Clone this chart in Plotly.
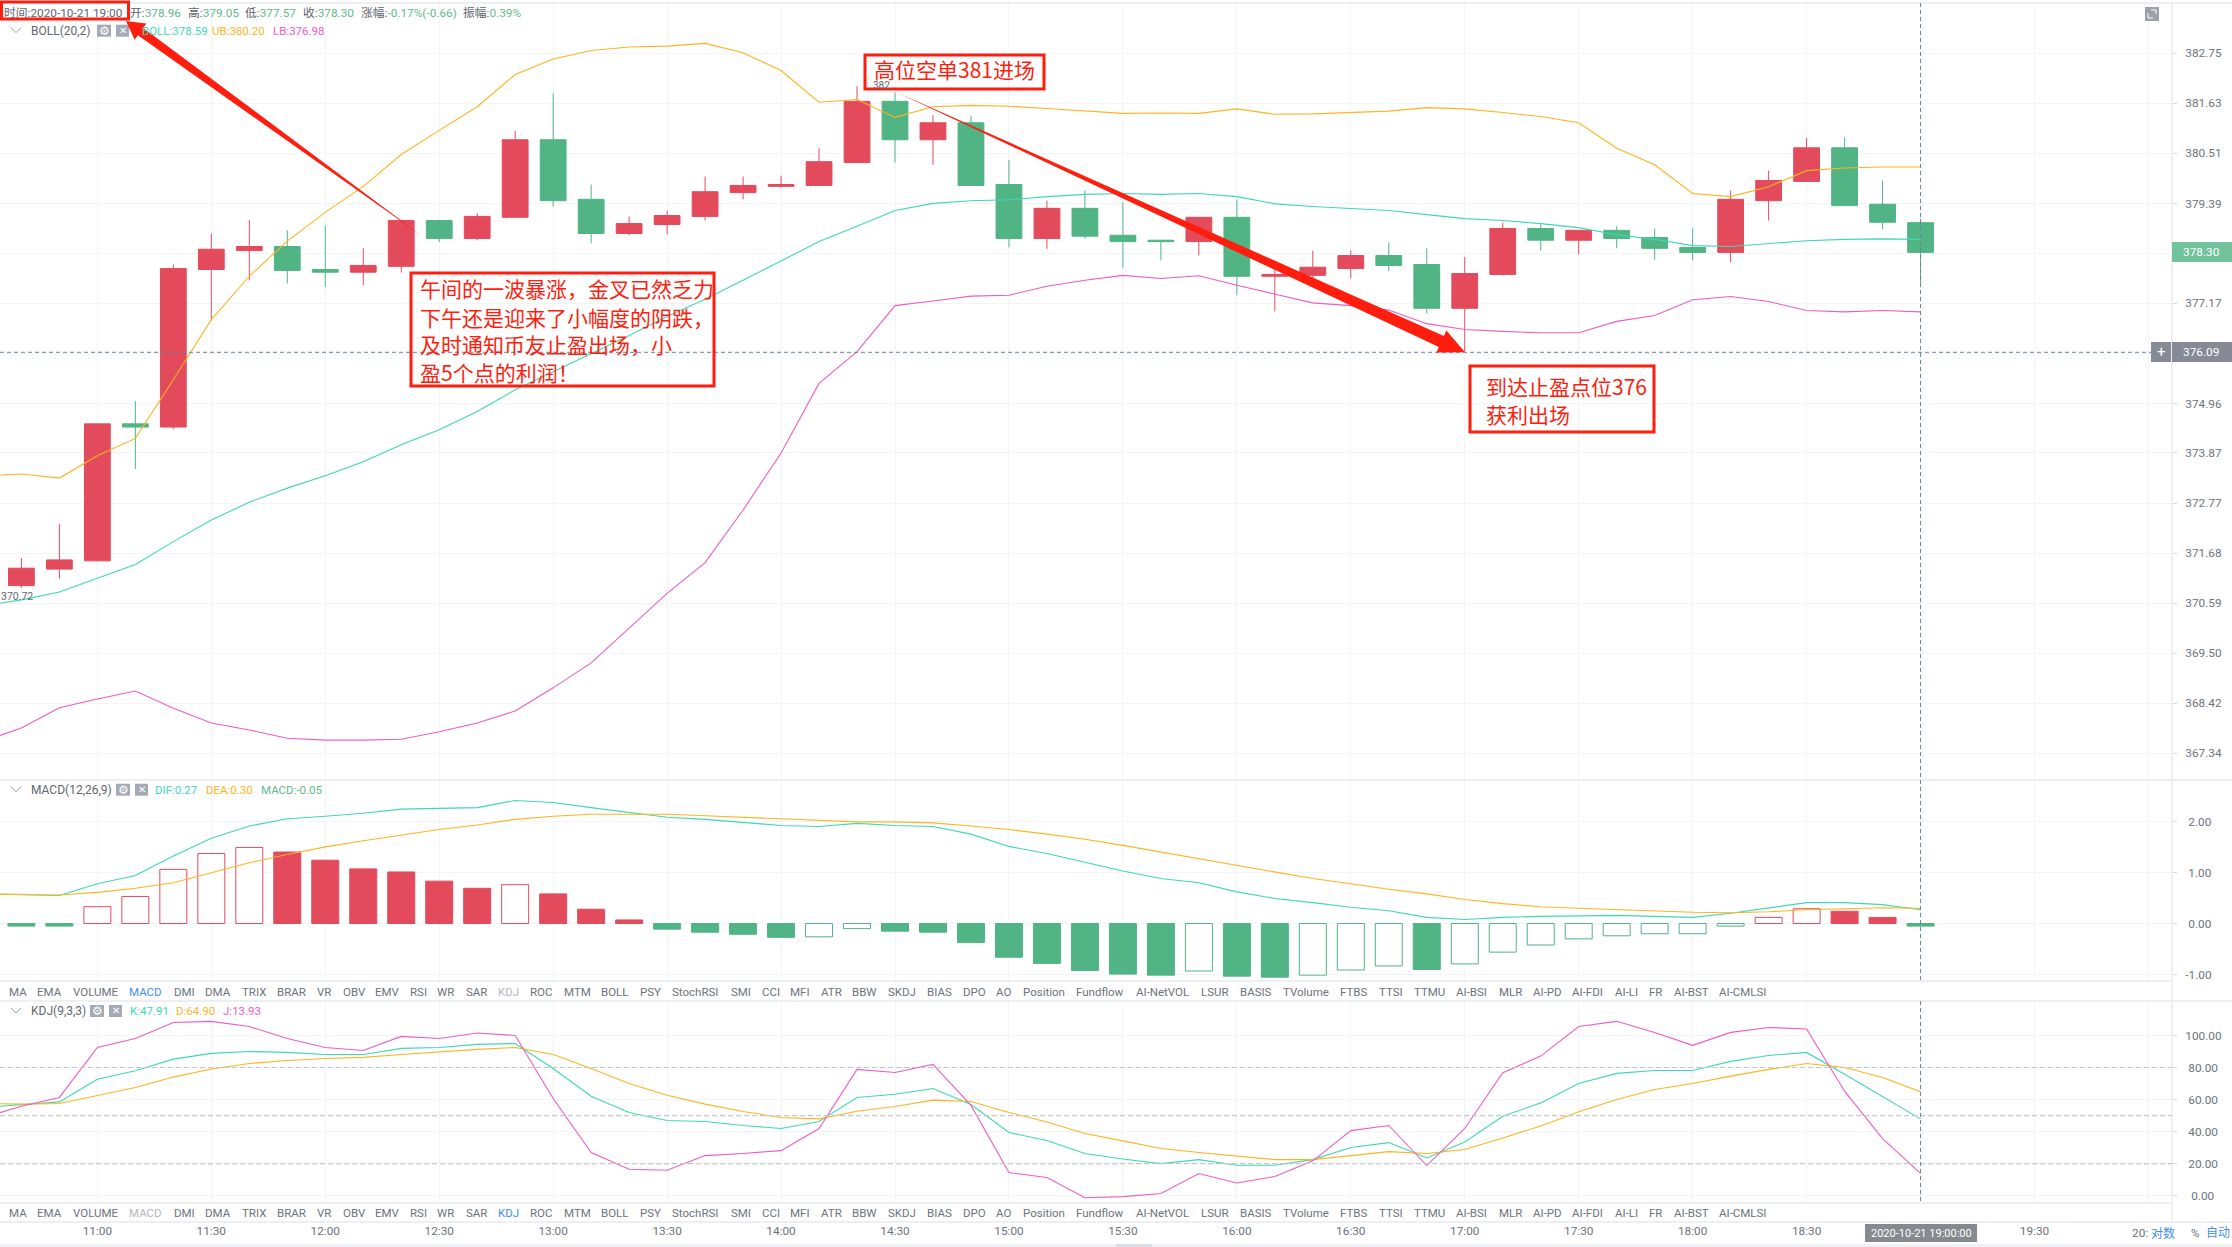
"""
plot.py - ETH 10 minute candles with BOLL, MACD and KDJ panes, plus the trade notes.
"""

import math

import pandas as pd
import plotly.graph_objects as go

FIG_W = 2232
FIG_H = 1247
AXIS_X = 2172

# candles, 10:40 to 19:00
open_prices = [370.97, 371.33, 371.51, 374.51, 374.44, 377.92, 378.34, 378.43, 377.92, 377.86,
               377.99, 379.01, 378.61, 379.08, 380.81, 379.48, 378.72, 378.92, 379.10, 379.63,
               379.77, 379.79, 380.30, 381.67, 380.81, 381.19, 379.81, 378.61, 379.28, 378.68,
               378.57, 378.54, 379.08, 377.77, 377.79, 377.94, 378.23, 378.03, 377.06, 377.81,
               378.83, 378.57, 378.79, 378.63, 378.41, 378.30, 379.45, 379.88, 380.63, 379.37, 378.96]
close_prices = [371.35, 371.53, 374.51, 374.44, 377.94, 378.37, 378.43, 377.90, 377.86, 378.01,
                379.01, 378.61, 379.10, 380.81, 379.45, 378.72, 378.94, 379.12, 379.65, 379.79,
                379.81, 380.32, 381.67, 380.81, 381.19, 379.79, 378.61, 379.28, 378.66, 378.54,
                378.54, 379.08, 377.77, 377.81, 377.97, 378.23, 378.01, 377.06, 377.83, 378.83,
                378.57, 378.79, 378.61, 378.39, 378.30, 379.48, 379.90, 380.63, 379.34, 378.97, 378.30]
high_prices = [371.57, 372.32, 374.51, 375.01, 378.03, 378.72, 379.02, 378.79, 378.90, 378.39,
               379.01, 379.01, 379.17, 381.01, 381.85, 379.81, 379.10, 379.23, 379.99, 379.99,
               380.01, 380.62, 382.01, 381.87, 381.36, 381.34, 380.36, 379.45, 379.68, 379.42,
               378.57, 379.08, 379.48, 378.03, 378.34, 378.34, 378.52, 378.39, 378.20, 378.96,
               378.92, 378.79, 378.88, 378.83, 378.83, 379.68, 380.12, 380.85, 380.86, 379.90, 379.05]
low_prices = [370.92, 371.12, 371.51, 373.52, 374.39, 376.81, 377.68, 377.61, 377.53, 377.57,
              377.85, 378.53, 378.57, 379.08, 379.32, 378.50, 378.68, 378.70, 379.01, 379.48,
              379.74, 379.79, 380.30, 380.30, 380.25, 379.79, 378.41, 378.38, 378.61, 377.96,
              378.12, 378.23, 377.35, 376.99, 377.57, 377.72, 377.88, 376.95, 376.10, 377.79,
              378.34, 378.26, 378.39, 378.14, 378.12, 378.08, 379.01, 379.88, 379.33, 378.81, 377.57]

# indicator lines start one bar earlier, at 10:30
boll_upper = [373.37, 373.41, 373.32, 373.81, 374.19, 375.48, 376.81, 377.77, 378.55, 379.19, 379.77,
              380.48, 381.02, 381.55, 382.27, 382.62, 382.81, 382.89, 382.91, 382.97, 382.76,
              382.36, 381.65, 381.71, 381.31, 381.55, 381.58, 381.56, 381.51, 381.45, 381.40,
              381.41, 381.40, 381.50, 381.38, 381.39, 381.42, 381.45, 381.53, 381.50, 381.42,
              381.33, 381.19, 380.62, 380.25, 379.61, 379.54, 379.76, 380.12, 380.18, 380.20, 380.20]
boll_mid = [370.53, 370.66, 370.83, 371.13, 371.43, 371.93, 372.40, 372.79, 373.10, 373.37, 373.68,
            374.05, 374.38, 374.78, 375.26, 375.66, 376.06, 376.46, 376.88, 377.26, 377.68,
            378.11, 378.54, 378.88, 379.23, 379.39, 379.45, 379.47, 379.54, 379.59, 379.61,
            379.59, 379.61, 379.54, 379.38, 379.32, 379.28, 379.23, 379.14, 379.05, 379.01,
            378.94, 378.85, 378.69, 378.59, 378.45, 378.43, 378.50, 378.56, 378.59, 378.60, 378.59]
boll_lower = [367.60, 367.88, 368.32, 368.51, 368.68, 368.31, 367.99, 367.84, 367.66, 367.62, 367.62,
              367.64, 367.80, 367.99, 368.25, 368.75, 369.29, 370.05, 370.80, 371.47, 372.62,
              373.87, 375.40, 376.10, 377.12, 377.22, 377.33, 377.35, 377.55, 377.68, 377.79,
              377.72, 377.78, 377.57, 377.37, 377.18, 377.12, 377.02, 376.72, 376.59, 376.55,
              376.52, 376.52, 376.77, 376.90, 377.25, 377.32, 377.21, 377.01, 376.98, 377.01, 376.98]

macd_dif = [0.58, 0.56, 0.55, 0.78, 0.94, 1.32, 1.67, 1.91, 2.05, 2.10, 2.16,
            2.24, 2.25, 2.27, 2.41, 2.37, 2.27, 2.17, 2.08, 2.04, 1.98,
            1.92, 1.90, 1.96, 1.92, 1.90, 1.75, 1.51, 1.37, 1.20, 1.03,
            0.88, 0.80, 0.62, 0.49, 0.41, 0.32, 0.25, 0.12, 0.08, 0.12,
            0.14, 0.15, 0.16, 0.14, 0.12, 0.20, 0.30, 0.41, 0.41, 0.37, 0.27]
macd_dea = [0.58, 0.57, 0.56, 0.61, 0.69, 0.80, 1.00, 1.19, 1.35, 1.50, 1.62,
            1.73, 1.84, 1.93, 2.04, 2.10, 2.14, 2.14, 2.14, 2.11, 2.08,
            2.05, 2.02, 1.99, 1.99, 1.97, 1.91, 1.84, 1.75, 1.65, 1.53,
            1.40, 1.27, 1.13, 1.01, 0.88, 0.78, 0.67, 0.58, 0.47, 0.39,
            0.33, 0.30, 0.27, 0.25, 0.22, 0.21, 0.23, 0.27, 0.29, 0.31, 0.30]
macd_hist = [-0.05, -0.05, 0.33, 0.53, 1.06, 1.37, 1.49, 1.40, 1.24, 1.07,
             1.01, 0.83, 0.69, 0.76, 0.58, 0.28, 0.07, -0.11, -0.17, -0.21,
             -0.27, -0.26, -0.10, -0.15, -0.17, -0.37, -0.66, -0.78, -0.92, -0.99,
             -1.01, -0.93, -1.03, -1.05, -1.01, -0.91, -0.83, -0.90, -0.79, -0.56,
             -0.42, -0.30, -0.24, -0.20, -0.20, -0.05, 0.12, 0.29, 0.24, 0.12, -0.05]
# bars drawn hollow in the reference
macd_hollow = [0, 0, 1, 1, 1, 1, 1, 0, 0, 0,
               0, 0, 0, 1, 0, 0, 0, 0, 0, 0,
               0, 1, 1, 0, 0, 0, 0, 0, 0, 0,
               0, 1, 0, 0, 1, 1, 1, 0, 1, 1,
               1, 1, 1, 1, 1, 1, 1, 1, 0, 0, 0]

kdj_k = [55.0, 56.9, 58.5, 72.7, 77.9, 85.2, 88.8, 90.0, 89.4, 88.1, 88.1,
         91.9, 92.5, 94.4, 95.0, 79.4, 62.1, 51.9, 46.9, 46.3, 43.8,
         41.9, 46.3, 61.3, 63.3, 66.9, 56.9, 39.4, 34.4, 26.3, 22.9,
         20.0, 22.5, 19.0, 19.0, 22.5, 30.0, 33.1, 23.5, 33.5, 49.6,
         57.9, 70.0, 76.3, 78.1, 78.1, 83.8, 87.5, 89.4, 75.8, 61.7, 47.9]
kdj_d = [57.5, 57.1, 57.5, 62.5, 67.5, 74.0, 79.0, 82.5, 84.4, 85.6, 86.3,
         88.1, 89.8, 91.3, 92.5, 88.1, 79.4, 70.0, 62.7, 57.1, 52.5,
         48.8, 47.9, 52.7, 55.6, 59.6, 58.8, 51.9, 46.0, 38.8, 34.2,
         29.4, 26.9, 24.6, 22.5, 22.5, 25.0, 27.5, 26.3, 28.8, 36.0,
         43.5, 52.3, 60.0, 66.3, 70.0, 74.6, 78.8, 82.5, 80.0, 73.8, 64.9]
kdj_j = [48.8, 55.8, 61.3, 92.5, 98.1, 108.1, 108.8, 105.6, 98.1, 92.5, 90.6,
         99.4, 98.1, 101.5, 100.0, 60.6, 26.9, 16.5, 15.8, 25.0, 26.3,
         28.1, 41.9, 78.8, 76.9, 81.9, 56.3, 14.4, 11.3, -1.3, -0.6,
         1.3, 13.8, 7.9, 11.9, 21.7, 40.6, 43.8, 18.8, 41.9, 76.7,
         87.1, 105.6, 108.8, 101.9, 93.8, 101.9, 105.0, 104.0, 65.2, 35.6, 13.93]

# axis ticks and labels
price_ticks = [382.75, 381.63, 380.51, 379.39, 378.28, 377.17, 376.07, 374.96,
               373.87, 372.77, 371.68, 370.59, 369.50, 368.42, 367.34]
price_labels = ["382.75", "381.63", "380.51", "379.39", "", "377.17", "", "374.96",
                "373.87", "372.77", "371.68", "370.59", "369.50", "368.42", "367.34"]
macd_ticks = [2, 1, 0, -1]
macd_labels = ["\u00a02.00", "\u00a01.00", "\u00a00.00", "-1.00"]
kdj_ticks = [100, 80, 60, 40, 20, 0]
kdj_labels = ["100.00", "\u00a080.00", "\u00a060.00", "\u00a040.00", "\u00a020.00", "\u00a0\u00a00.00"]
kdj_guides = [80, 50, 20]
time_labels = ["11:00", "11:30", "12:00", "12:30", "13:00", "13:30", "14:00", "14:30", "15:00",
               "15:30", "16:00", "16:30", "17:00", "17:30", "18:00", "18:30", "", "19:30", ""]
time_ticks = ["2020-10-21 " + t + ":00" for t in
              ["11:00", "11:30", "12:00", "12:30", "13:00", "13:30", "14:00", "14:30", "15:00",
               "15:30", "16:00", "16:30", "17:00", "17:30", "18:00", "18:30", "19:00", "19:30", "20:00"]]

# indicator tab row, name and left edge
tab_names = ["MA", "EMA", "VOLUME", "MACD", "DMI", "DMA", "TRIX", "BRAR", "VR", "OBV", "EMV", "RSI",
             "WR", "SAR", "KDJ", "ROC", "MTM", "BOLL", "PSY", "StochRSI", "SMI", "CCI", "MFI", "ATR",
             "BBW", "SKDJ", "BIAS", "DPO", "AO", "Position", "Fundflow", "AI-NetVOL", "LSUR", "BASIS",
             "TVolume", "FTBS", "TTSI", "TTMU", "AI-BSI", "MLR", "AI-PD", "AI-FDI", "AI-LI", "FR",
             "AI-BST", "AI-CMLSI"]
tab_left = [8, 36, 72, 128, 173, 204, 241, 276, 316, 342, 374, 409,
            436, 465, 497, 529, 563, 600, 639, 671, 730, 761, 789, 820,
            851, 887, 926, 962, 995, 1022, 1075, 1135, 1200, 1239,
            1282, 1339, 1378, 1413, 1455, 1498, 1532, 1571, 1614, 1648,
            1673, 1718]

RED = "#e34b5c"
GREEN = "#50b484"
TEAL = "#3ed8b6"
ORANGE = "#ffb31f"
PINK = "#ee5cc6"
VALUE_GREEN = "#62ba8e"
TEXT = "#5f6670"
TAB_TEXT = "#6d737c"
BLUE = "#3f8ef0"
MUTED = "#b4b8bf"
GRID = "#f3f4f7"
SEPARATOR = "#e8eaee"
NOTE_RED = "#ff1d0e"
ICON = "#a4aab6"
CROSS = "#6f8296"
FONT = "Roboto, 'Noto Sans CJK SC', sans-serif"

candle_times = pd.date_range("2020-10-21 10:40", periods=len(open_prices), freq="10min")
line_times = pd.date_range("2020-10-21 10:30", periods=len(boll_mid), freq="10min")


def px(x):
    return x / FIG_W


def py(y):
    return 1 - y / FIG_H


def pane(top, bottom):
    return [py(bottom), py(top)]


annotations = []
shapes = []


def add_text(x, y, text, color=TEXT, size=11.5, anchor="left", family=FONT):
    annotations.append(dict(x=px(x), y=py(y), xref="paper", yref="paper", text=text, showarrow=False,
                            xanchor=anchor, yanchor="middle", borderpad=0,
                            font=dict(color=color, size=size, family=family)))


def add_rect(x0, y0, x1, y1, fill=None, line=None, width=0):
    shapes.append(dict(type="rect", xref="paper", yref="paper", x0=px(x0), x1=px(x1), y0=py(y0), y1=py(y1),
                       fillcolor=fill if fill else "rgba(0,0,0,0)",
                       line=dict(color=line if line else "rgba(0,0,0,0)", width=width), layer="above"))


def add_line(x0, y0, x1, y1, color=SEPARATOR, width=1.5, dash="solid"):
    shapes.append(dict(type="line", xref="paper", yref="paper", x0=px(x0), x1=px(x1), y0=py(y0), y1=py(y1),
                       line=dict(color=color, width=width, dash=dash), layer="above"))


def add_path(points, fill=None, line=None, width=0):
    path = "M " + " L ".join(f"{px(x):.5f},{py(y):.5f}" for x, y in points)
    if fill:
        path += " Z"
    shapes.append(dict(type="path", xref="paper", yref="paper", path=path,
                       fillcolor=fill if fill else "rgba(0,0,0,0)",
                       line=dict(color=line if line else "rgba(0,0,0,0)", width=width), layer="above"))


def add_arrow(x0, y0, x1, y1, neck, head, head_len):
    """Hand drawn style arrow: thin at the tail, thick towards the head."""
    length = math.hypot(x1 - x0, y1 - y0)
    dx, dy = (x1 - x0) / length, (y1 - y0) / length
    nx, ny = -dy, dx
    bx, by = x1 - dx * head_len, y1 - dy * head_len
    add_path([(x0, y0),
              (bx + nx * neck, by + ny * neck),
              (bx + nx * head, by + ny * head),
              (x1, y1),
              (bx - nx * head, by - ny * head),
              (bx - nx * neck, by - ny * neck)], fill=NOTE_RED)


def add_pane_header(y, title, gear_x, close_x, values):
    add_path([(11, y - 3), (16, y + 2), (21, y - 3)], line="#9aa0a8", width=1)
    add_text(30, y, title, size=12)
    add_rect(gear_x, y - 6, gear_x + 14, y + 6, fill=ICON)
    add_text(gear_x + 7, y, "\u2699", color="#ffffff", size=12, anchor="center", family="DejaVu Sans")
    add_rect(close_x, y - 6, close_x + 13, y + 6, fill=ICON)
    add_text(close_x + 6.5, y, "\u2715", color="#ffffff", size=10, anchor="center", family="DejaVu Sans")
    for x, text, color in values:
        add_text(x, y, text, color=color)


fig = go.Figure()

fig.add_trace(go.Candlestick(
    x=candle_times, open=open_prices, high=high_prices, low=low_prices, close=close_prices,
    increasing=dict(line=dict(color=RED, width=1), fillcolor=RED),
    decreasing=dict(line=dict(color=GREEN, width=1), fillcolor=GREEN),
    whiskerwidth=0, xaxis="x", yaxis="y", showlegend=False))
for values, color in [(boll_upper, ORANGE), (boll_mid, TEAL), (boll_lower, PINK)]:
    fig.add_trace(go.Scatter(x=line_times, y=values, mode="lines", line=dict(color=color, width=1.1),
                             xaxis="x", yaxis="y", showlegend=False))

hist_colors = [RED if v > 0 else GREEN for v in macd_hist]
fig.add_trace(go.Bar(
    x=candle_times, y=macd_hist, width=27 / 38 * 600000,
    marker=dict(color=["#ffffff" if h else c for h, c in zip(macd_hollow, hist_colors)],
                line=dict(color=hist_colors, width=1)),
    xaxis="x2", yaxis="y2", showlegend=False))
for values, color in [(macd_dif, TEAL), (macd_dea, ORANGE)]:
    fig.add_trace(go.Scatter(x=line_times, y=values, mode="lines", line=dict(color=color, width=1.1),
                             xaxis="x2", yaxis="y2", showlegend=False))

for values, color in [(kdj_k, TEAL), (kdj_d, ORANGE), (kdj_j, PINK)]:
    fig.add_trace(go.Scatter(x=line_times, y=values, mode="lines", line=dict(color=color, width=1.1),
                             xaxis="x3", yaxis="y3", showlegend=False))

# price pane is on a log scale like the exchange chart, 50px between ticks
price_range = [math.log10(366.76), math.log10(383.88)]
x_range = ["2020-10-21 10:34:22", "2020-10-21 20:06:12"]
x_domain = [0, px(AXIS_X)]
tick_font = dict(color=TAB_TEXT, size=11.8, family=FONT)

common_x = dict(type="date", range=x_range, domain=x_domain, tickmode="array", tickvals=time_ticks,
                showgrid=True, gridcolor=GRID, gridwidth=1, zeroline=False, showline=False)
common_y = dict(side="right", tickmode="array", showgrid=True, gridcolor=GRID, gridwidth=1, zeroline=False,
                ticks="outside", ticklen=4, tickcolor="#d5d8dd", ticklabelstandoff=6, tickfont=tick_font,
                showline=False)

fig.update_layout(
    width=FIG_W, height=FIG_H, margin=dict(l=0, r=0, t=0, b=0), autosize=False,
    paper_bgcolor="#ffffff", plot_bgcolor="#ffffff", showlegend=False, boxgap=0.03,
    xaxis=dict(common_x, anchor="y", showticklabels=False, ticks="", rangeslider=dict(visible=False)),
    xaxis2=dict(common_x, anchor="y2", showticklabels=False, ticks="", matches="x"),
    xaxis3=dict(common_x, anchor="free", position=py(1222), ticktext=time_labels, ticks="", tickfont=tick_font,
                matches="x", tickangle=0),
    yaxis=dict(common_y, type="log", domain=pane(3, 780), range=price_range, tickvals=price_ticks,
               ticktext=price_labels, anchor="x"),
    yaxis2=dict(common_y, domain=pane(780, 981), range=[-1.125, 2.81], tickvals=macd_ticks,
                ticktext=macd_labels, anchor="x2"),
    yaxis3=dict(common_y, domain=pane(1001, 1203), range=[-4.6, 121.5], tickvals=kdj_ticks,
                ticktext=kdj_labels, anchor="x3"),
)

# frame lines between panes and the price axis rule
for y, right in [(3, FIG_W), (780, FIG_W), (981, AXIS_X), (1001, FIG_W), (1203, AXIS_X), (1222, FIG_W)]:
    add_line(0, y, right, y)
add_line(AXIS_X, 3, AXIS_X, 1222)

# KDJ guide levels
for level in kdj_guides:
    shapes.append(dict(type="line", xref="x3 domain", yref="y3", x0=0, x1=1, y0=level, y1=level,
                       line=dict(color="#c6c7c9", width=1.2, dash="5px,3px"), layer="above"))

# crosshair on the last bar and on the 376.09 low
for top, bottom in [(3, 981), (1001, 1203)]:
    shapes.append(dict(type="line", xref="x", yref="paper", x0="2020-10-21 19:00:00", x1="2020-10-21 19:00:00",
                       y0=py(top), y1=py(bottom), line=dict(color=CROSS, width=1, dash="4px,3px"), layer="above"))
add_line(0, 352.3, 2151, 352.3, color=CROSS, width=1, dash="4px,3px")

# header rows
header_items = [(3, "时间:", "2020-10-21 19:00", TEXT), (129, "开:", "378.96", VALUE_GREEN),
                (187, "高:", "379.05", VALUE_GREEN), (244, "低:", "377.57", VALUE_GREEN),
                (302, "收:", "378.30", VALUE_GREEN), (360, "涨幅:", "-0.17%(-0.66)", VALUE_GREEN),
                (462, "振幅:", "0.39%", VALUE_GREEN)]
for x, label, value, color in header_items:
    add_text(x, 12.7, f'<span style="color:{TEXT}">{label}</span><span style="color:{color}">{value}</span>', size=11.8)

add_pane_header(30.7, "BOLL(20,2)", 97, 116,
                [(141, "BOLL:378.59", TEAL), (211, "UB:380.20", ORANGE), (272, "LB:376.98", PINK)])
add_pane_header(789.7, "MACD(12,26,9)", 116, 135,
                [(154, "DIF:0.27", TEAL), (205, "DEA:0.30", ORANGE), (260, "MACD:-0.05", VALUE_GREEN)])
add_pane_header(1011, "KDJ(9,3,3)", 90, 109,
                [(129, "K:47.91", TEAL), (175, "D:64.90", ORANGE), (222, "J:13.93", PINK)])

# tab rows under MACD and KDJ
for name, x in zip(tab_names, tab_left):
    top_color = BLUE if name == "MACD" else MUTED if name == "KDJ" else TAB_TEXT
    low_color = BLUE if name == "KDJ" else MUTED if name == "MACD" else TAB_TEXT
    add_text(x, 991.7, name, color=top_color)
    add_text(x, 1212.7, name, color=low_color)

# high and low markers
add_text(872, 85.5, "382", size=10)
add_text(0, 596.7, "370.72", size=10.5)

# price boxes and expand icon on the right
add_rect(AXIS_X, 242, FIG_W, 262, fill="#72c29b")
add_text(2201, 252, "378.30", color="#ffffff", anchor="center", size=11.8)
add_rect(2151, 342, 2171, 362, fill="#858a96")
add_text(2161, 352, "+", color="#ffffff", size=15, anchor="center")
add_rect(AXIS_X, 342, FIG_W, 362, fill="#858a96")
add_text(2201, 352, "376.09", color="#ffffff", anchor="center", size=11.8)
add_rect(2145, 7, 2159, 21, fill="#9aa0ac")
add_path([(2151, 10), (2156, 10), (2156, 14)], line="#ffffff", width=1)
add_path([(2148, 13), (2148, 18), (2153, 18)], line="#ffffff", width=1)

# bottom bar
add_rect(1865, 1224, 1977, 1242, fill="#858a91")
add_text(1921, 1233, "2020-10-21 19:00:00", color="#ffffff", size=11, anchor="center")
add_text(2149, 1233, "20:", color=TAB_TEXT, anchor="right", size=11.8)
add_text(2150, 1233, "对数", color=BLUE, size=12)
add_text(2190, 1233, "%", color=TAB_TEXT, size=11.5)
add_text(2205, 1233, "自动", color=BLUE, size=12)
add_rect(0, 1244, FIG_W, 1247, fill="#f0f1f4")
add_rect(1116, 1244, 1152, 1247, fill="#dcdee3")

# trade notes drawn on top of the chart
add_arrow(422, 236, 126, 21, 4.5, 10, 18)
add_arrow(895.5, 91.7, 1465, 352.3, 6, 12, 26)
add_rect(1.5, 2, 128.5, 19, line=NOTE_RED, width=3)
add_rect(411, 273, 714, 386, line=NOTE_RED, width=3)
add_rect(865, 55, 1044, 89, line=NOTE_RED, width=3)
add_rect(1470, 366, 1654, 432, line=NOTE_RED, width=3)

note_lines = [(418.5, 288, "午间的一波暴涨，金叉已然乏力"),
              (418.5, 316.5, "下午还是迎来了小幅度的阴跌，"),
              (418.5, 344, "及时通知币友止盈出场，小"),
              (418.5, 372, "盈5个点的利润！"),
              (873, 69, "高位空单381进场"),
              (1485, 385.7, "到达止盈点位376"),
              (1485, 414.3, "获利出场")]
for x, y, text in note_lines:
    add_text(x, y, text, color=NOTE_RED, size=21, family="'Noto Sans CJK SC', sans-serif")

fig.update_layout(annotations=annotations, shapes=shapes)

fig.write_html("out.html", config={"displayModeBar": False},
               post_script="document.body.style.margin = '0';")
